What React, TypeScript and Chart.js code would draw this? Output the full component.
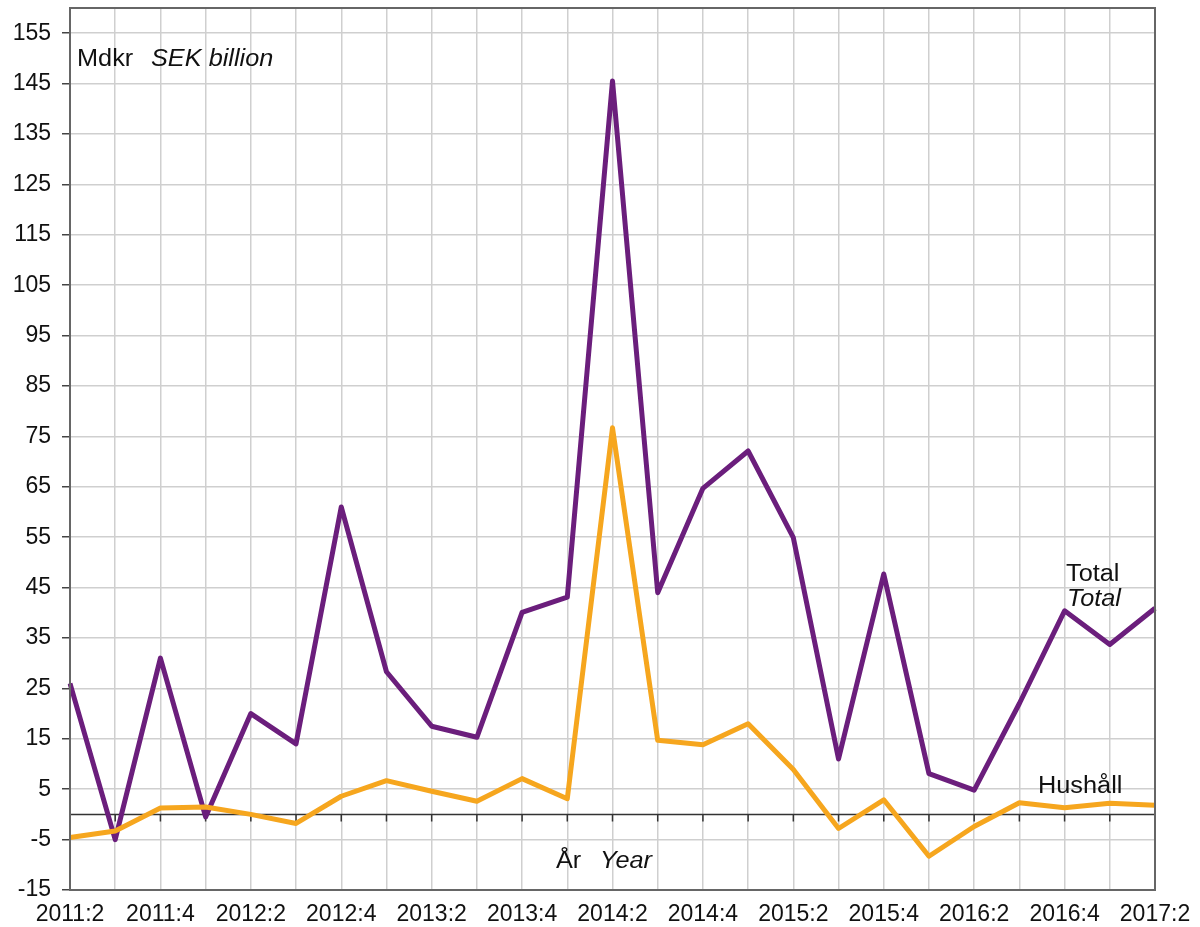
import React, { useEffect, useRef } from "react";
import { Chart, registerables } from "chart.js";

Chart.register(...registerables);

const quarters = [
  "2011:2", "2011:3", "2011:4",
  "2012:1", "2012:2", "2012:3", "2012:4",
  "2013:1", "2013:2", "2013:3", "2013:4",
  "2014:1", "2014:2", "2014:3", "2014:4",
  "2015:1", "2015:2", "2015:3", "2015:4",
  "2016:1", "2016:2", "2016:3", "2016:4",
  "2017:1", "2017:2",
];

const totalValues = [
  26, -5, 31,
  -0.5, 20, 14, 61,
  28.3, 17.5, 15.3, 40.1,
  43.1, 145.5, 44, 64.7,
  72.1, 54.9, 11, 47.7,
  8.1, 4.8, 22, 40.4,
  33.7, 40.9,
];

const householdValues = [
  -4.6, -3.3, 1.25,
  1.45, 0, -1.8, 3.6,
  6.7, 4.6, 2.6, 7.1,
  3.1, 76.7, 14.7, 13.8,
  18.0, 8.9, -2.8, 2.9,
  -8.3, -2.4, 2.3, 1.3,
  2.2, 1.8,
];

const yTickValues = [-15, -5, 5, 15, 25, 35, 45, 55, 65, 75, 85, 95, 105, 115, 125, 135, 145, 155];

const FONT = '"Liberation Sans", Arial, sans-serif';
const PURPLE = "#6B1E7C";
const ORANGE = "#F6A61E";

export default function App() {
  const ref = useRef<HTMLCanvasElement>(null);

  useEffect(() => {
    document.body.style.margin = "0";
    const canvas = ref.current;
    if (!canvas) return;

    const overlay = {
      id: "overlay",
      beforeDatasetsDraw(chart: any) {
        const { ctx, chartArea: a, scales } = chart;
        const x = scales.x;
        const y = scales.y;
        const y0 = y.getPixelForValue(0);
        ctx.save();
        ctx.strokeStyle = "#333";
        ctx.lineWidth = 1.5;
        ctx.beginPath();
        ctx.moveTo(a.left, y0);
        ctx.lineTo(a.right, y0);
        for (let i = 0; i < quarters.length; i++) {
          const px = x.getPixelForValue(i);
          ctx.moveTo(px, y0);
          ctx.lineTo(px, y0 + 7);
        }
        ctx.stroke();
        ctx.restore();
      },
      afterDraw(chart: any) {
        const { ctx, chartArea: a } = chart;
        ctx.save();
        ctx.strokeStyle = "#666";
        ctx.lineWidth = 2;
        ctx.strokeRect(a.left, a.top, a.right - a.left, a.bottom - a.top);

        ctx.fillStyle = "#111";
        ctx.textBaseline = "middle";
        ctx.textAlign = "left";
        const normal = `23px ${FONT}`;
        const italic = `italic 23px ${FONT}`;
        const sx = 1.1;
        const put = (text: string, px: number, py: number, it: boolean) => {
          ctx.save();
          ctx.font = it ? italic : normal;
          ctx.translate(px, py);
          ctx.scale(sx, 1);
          ctx.fillText(text, 0, 0);
          ctx.restore();
        };
        put("Mdkr", 77, 60, false);
        put("SEK billion", 151, 60, true);
        put("År", 556, 862, false);
        put("Year", 600, 862, true);
        put("Total", 1066, 575, false);
        put("Total", 1067, 600, true);
        put("Hushåll", 1038, 787, false);
        ctx.restore();
      },
    };

    const chart = new Chart(canvas, {
      type: "line",
      data: {
        labels: quarters,
        datasets: [
          {
            label: "Hushåll",
            data: householdValues,
            borderColor: ORANGE,
            backgroundColor: ORANGE,
            borderWidth: 5,
            pointRadius: 0,
            tension: 0,
            borderJoinStyle: "round",
          },
          {
            label: "Total",
            data: totalValues,
            borderColor: PURPLE,
            backgroundColor: PURPLE,
            borderWidth: 5,
            pointRadius: 0,
            tension: 0,
            borderJoinStyle: "round",
          },
        ],
      },
      options: {
        responsive: false,
        animation: false,
        layout: { padding: { left: 0, top: 8, right: 45, bottom: 0 } },
        plugins: {
          legend: { display: false },
          tooltip: { enabled: false },
        },
        scales: {
          x: {
            type: "category",
            offset: false,
            grid: { color: "#cfcfcf", lineWidth: 1.5, drawTicks: false },
            border: { display: true, color: "#555", width: 2 },
            ticks: {
              autoSkip: false,
              maxRotation: 0,
              minRotation: 0,
              padding: 11,
              color: "#111",
              font: { family: FONT, size: 23 },
              callback: (_v: any, i: number) => (i % 2 === 0 ? quarters[i] : ""),
            },
            afterFit: (s: any) => {
              s.height = 37;
              s.paddingLeft = 0;
              s.paddingRight = 0;
            },
          },
          y: {
            type: "linear",
            min: -15,
            max: 160,
            grid: { color: "#cfcfcf", lineWidth: 1.5, tickColor: "#444", tickLength: 8 },
            border: { display: true, color: "#555", width: 2 },
            ticks: {
              padding: 11,
              color: "#111",
              font: { family: FONT, size: 23 },
              callback: (v: any) => String(v),
            },
            afterBuildTicks: (s: any) => {
              s.ticks = yTickValues.map((v) => ({ value: v }));
            },
            afterFit: (s: any) => {
              s.width = 70;
              s.paddingTop = 0;
              s.paddingBottom = 0;
            },
          },
        },
      },
      plugins: [overlay],
    } as any);

    return () => chart.destroy();
  }, []);

  return (
    <div style={{ width: 1200, height: 927 }}>
      <canvas ref={ref} width={1200} height={927} style={{ display: "block" }} />
    </div>
  );
}
